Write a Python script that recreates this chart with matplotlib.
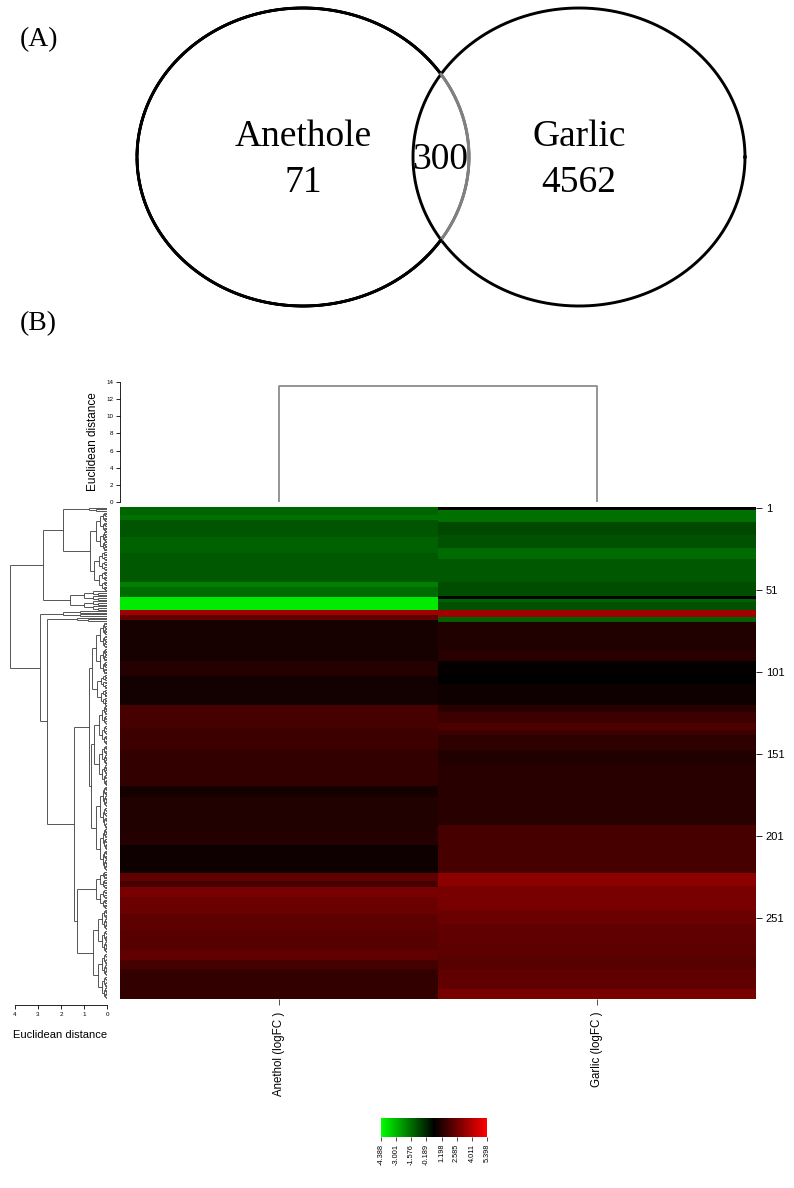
import numpy as np
import matplotlib
matplotlib.use("Agg")
import matplotlib.pyplot as plt
from matplotlib.collections import LineCollection
from matplotlib.colors import LinearSegmentedColormap

# ---------------- Panel A data ----------------
venn_names = ["Anethole", "Garlic"]
venn_only = [71, 4562]
venn_shared = 300

# ---------------- Panel B data ----------------
col_labels = ["Anethol (logFC )", "Garlic (logFC )"]
n_rows = 300
# (first_row, last_row, logFC)
anethol_bands = [(1, 5, -1.41), (6, 8, -1.65), (9, 18, -1.11), (19, 28, -1.35),
                 (29, 46, -1.21), (47, 49, -1.94), (50, 55, -1.55), (56, 63, -4.0),
                 (64, 66, 3.6), (67, 69, 2.37), (70, 94, 0.95), (95, 103, 1.2),
                 (104, 121, 0.85), (122, 135, 1.87), (136, 148, 1.68), (149, 170, 1.47),
                 (171, 177, 0.9), (178, 198, 1.12), (199, 206, 1.2), (207, 223, 0.8),
                 (224, 228, 2.37), (229, 232, 1.87), (233, 238, 2.8), (239, 248, 2.55),
                 (249, 258, 2.3), (259, 270, 2.15), (271, 276, 2.37), (277, 282, 1.87),
                 (283, 300, 1.47)]
garlic_bands = [(1, 2, 0.5), (3, 9, -1.65), (10, 17, -0.86), (18, 25, -1.03),
                (26, 32, -1.55), (33, 46, -1.19), (47, 54, -0.96), (55, 56, 0.4),
                (57, 58, -1.35), (59, 63, -1.03), (64, 67, 3.6), (68, 70, -1.35),
                (71, 87, 1.12), (88, 94, 1.3), (95, 102, 0.6), (103, 108, 0.5),
                (109, 121, 0.8), (122, 125, 1.3), (126, 132, 1.68), (133, 136, 1.97),
                (137, 139, 1.68), (140, 148, 1.4), (149, 157, 1.12), (158, 194, 1.3),
                (195, 223, 1.87), (224, 231, 3.2), (232, 246, 2.8), (247, 254, 2.55),
                (255, 266, 2.37), (267, 274, 2.3), (275, 282, 2.15), (283, 294, 2.37),
                (295, 300, 2.8)]
row_ticks = [1, 51, 101, 151, 201, 251]
col_tree_height = 13.5
col_dist_ticks = [0, 2, 4, 6, 8, 10, 12, 14]
row_dist_ticks = [4, 3, 2, 1, 0]
cbar_ticks = [-4.388, -3.001, -1.576, -0.189, 1.198, 2.585, 4.011, 5.398]
vmin, vmax = -4.388, 5.398

# row dendrogram: terminal row groups (first_row, last_row, height of group)
row_groups = [(1, 3, 0.8), (4, 27, 0.5), (28, 51, 0.55), (52, 63, 1.6),
              (64, 67, 1.9), (68, 70, 1.3), (71, 102, 0.5), (103, 121, 0.45),
              (122, 170, 0.55), (171, 222, 0.5), (223, 245, 0.5), (246, 300, 0.6)]
# merges (child_a, child_b, height); ids >= len(row_groups) refer to earlier merges
row_links = [(1, 2, 0.74), (0, 12, 1.9), (13, 3, 2.8), (6, 7, 0.65), (8, 9, 0.7),
             (15, 16, 0.78), (10, 11, 1.3), (17, 18, 1.43), (5, 19, 2.6),
             (4, 20, 2.9), (14, 21, 4.2)]

# ---------------- helpers ----------------
W, H = 794, 1188
SANS = "Liberation Sans"
SERIF = "Liberation Serif"


def box(x0, y0, x1, y1):
    return [x0 / W, 1 - y1 / H, (x1 - x0) / W, (y1 - y0) / H]


def expand(bands):
    v = np.zeros(n_rows)
    for a, b, val in bands:
        v[a - 1:b] = val
    return v


fig = plt.figure(figsize=(W / 100, H / 100), dpi=100)

# ---------------- Panel A : Venn ----------------
axv = fig.add_axes(box(0, 0, W, 320))
axv.set_xlim(0, W)
axv.set_ylim(320, 0)
axv.axis("off")
cL, cR, a_ax, b_ax = (303, 157), (579, 157), 166, 149
t = np.linspace(0, 2 * np.pi, 1500)
xr = cR[0] + a_ax * np.cos(t)
yr = cR[1] + b_ax * np.sin(t)
axv.plot(xr, yr, color="black", lw=2.1)
xl = cL[0] + a_ax * np.cos(t)
yl = cL[1] + b_ax * np.sin(t)
pts = np.column_stack([xl, yl])
segs = np.stack([pts[:-1], pts[1:]], axis=1)
mid = (pts[:-1] + pts[1:]) / 2
inside = ((mid[:, 0] - cR[0]) / a_ax) ** 2 + ((mid[:, 1] - cR[1]) / b_ax) ** 2 < 1
cols = np.where(inside[:, None], np.array([[0.5, 0.5, 0.5, 1]]), np.array([[0, 0, 0, 1]]))
axv.add_collection(LineCollection(segs, colors=cols, linewidths=2.1, capstyle="round"))
FS = 27
axv.text(cL[0], 137, venn_names[0], ha="center", va="center", fontsize=FS, family=SERIF)
axv.text(cL[0], 183, str(venn_only[0]), ha="center", va="center", fontsize=FS, family=SERIF)
axv.text(cR[0], 137, venn_names[1], ha="center", va="center", fontsize=FS, family=SERIF)
axv.text(cR[0], 183, str(venn_only[1]), ha="center", va="center", fontsize=FS, family=SERIF)
axv.text(440, 160, str(venn_shared), ha="center", va="center", fontsize=FS, family=SERIF)
fig.text(20 / W, 1 - 40 / H, "(A)", ha="left", va="center", fontsize=20, family=SERIF)
fig.text(20 / W, 1 - 324 / H, "(B)", ha="left", va="center", fontsize=20, family=SERIF)

# ---------------- Panel B : heatmap ----------------
cmap = LinearSegmentedColormap.from_list("gkr", ["#00ff00", "#000000", "#ff0000"])
data = np.column_stack([expand(anethol_bands), expand(garlic_bands)])

axh = fig.add_axes(box(120, 507, 756, 999))
axh.imshow(data, cmap=cmap, vmin=vmin, vmax=vmax, aspect="auto",
           interpolation="nearest", extent=(0, 2, n_rows, 0))
for s in axh.spines.values():
    s.set_visible(False)
axh.set_xticks([0.5, 1.5])
axh.set_xticklabels(col_labels, rotation=90, fontsize=8.3, family=SANS, va="top")
axh.tick_params(axis="x", length=4, width=0.6, pad=5, colors="#333333", labelcolor="black")
axh.yaxis.tick_right()
axh.set_yticks([r - 0.5 for r in row_ticks])
axh.set_yticklabels([str(r) for r in row_ticks], fontsize=8, family=SANS)
axh.tick_params(axis="y", length=4, width=0.6, pad=3)

# column dendrogram
axc = fig.add_axes(box(120, 382, 756, 502))
axc.set_xlim(0, 2)
axc.set_ylim(0, 14)
axc.plot([0.5, 0.5, 1.5, 1.5], [0, col_tree_height, col_tree_height, 0],
         color="#8c8c8c", lw=1.3)
for k in ["top", "right", "bottom"]:
    axc.spines[k].set_visible(False)
axc.spines["left"].set_bounds(0, 14)
axc.spines["left"].set_linewidth(0.6)
axc.set_xticks([])
axc.set_yticks(col_dist_ticks)
axc.set_yticklabels([str(v) for v in col_dist_ticks], fontsize=4.5, family=SANS)
axc.tick_params(axis="y", length=3, width=0.6, pad=2)
axc.set_ylabel("Euclidean distance", fontsize=8.5, family=SANS, labelpad=5)

# row dendrogram
axr = fig.add_axes(box(0, 507, 107, 999))
axr.set_xlim(107 / 23, 0)
axr.set_ylim(n_rows, 0)
nodes = []
lines = []


def inner(rows, h):
    if len(rows) == 1:
        return rows[0] - 0.5, 0.0
    m = len(rows) // 2
    y1, h1 = inner(rows[:m], h * 0.62)
    y2, h2 = inner(rows[m:], h * 0.62)
    lines.append([(h1, y1), (h, y1)])
    lines.append([(h, y1), (h, y2)])
    lines.append([(h, y2), (h2, y2)])
    return (y1 + y2) / 2, h


for a, b, h in row_groups:
    nodes.append(inner(list(range(a, b + 1)), h))
for ca, cb, h in row_links:
    y1, h1 = nodes[ca]
    y2, h2 = nodes[cb]
    lines.append([(h1, y1), (h, y1)])
    lines.append([(h, y1), (h, y2)])
    lines.append([(h, y2), (h2, y2)])
    nodes.append(((y1 + y2) / 2, h))
axr.add_collection(LineCollection(lines, colors="#3a3a3a", linewidths=0.6))
for k in ["top", "right", "left"]:
    axr.spines[k].set_visible(False)
axr.spines["bottom"].set_bounds(0, 4)
axr.spines["bottom"].set_position(("outward", 4))
axr.spines["bottom"].set_linewidth(0.6)
axr.set_yticks([])
axr.set_xticks(row_dist_ticks)
axr.set_xticklabels([str(v) for v in row_dist_ticks], fontsize=4.5, family=SANS)
axr.tick_params(axis="x", length=3, width=0.6, pad=2)
axr.set_xlabel("Euclidean distance", fontsize=8, family=SANS)
axr.xaxis.set_label_coords(60 / 107, -31 / 492)

# colour key
axk = fig.add_axes(box(381, 1118, 487, 1137))
grad = np.linspace(vmin, vmax, 256)[None, :]
axk.imshow(grad, cmap=cmap, vmin=vmin, vmax=vmax, aspect="auto",
           extent=(vmin, vmax, 0, 1))
for s in axk.spines.values():
    s.set_visible(False)
axk.set_yticks([])
axk.set_xticks(cbar_ticks)
axk.set_xticklabels([f"{v:.3f}" for v in cbar_ticks], rotation=90, fontsize=5.3, family=SANS)
axk.tick_params(axis="x", length=3, width=0.5, pad=2)

fig.savefig("out.png", dpi=100)
